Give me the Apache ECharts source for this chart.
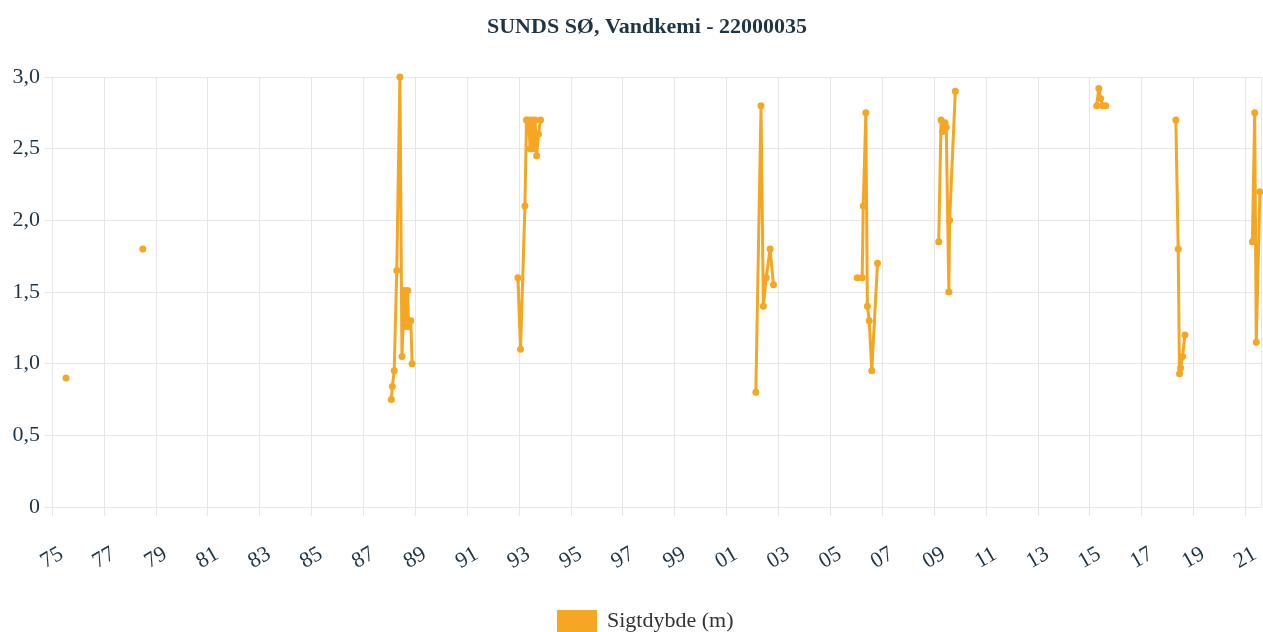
<!DOCTYPE html>
<html>
<head>
<meta charset="utf-8">
<script src="https://cdn.jsdelivr.net/npm/echarts@6/dist/echarts.min.js"></script>
<style>
html,body{margin:0;padding:0;background:#fff;}
#chart{width:1263px;height:632px;}
</style>
</head>
<body>
<div id="chart"></div>
<script>
// Sample dates (decimal years); null marks a gap in the series
const sampleYears = [
  1975.54, null,
  1978.50, null,
  1988.08, 1988.12, 1988.19, 1988.29, 1988.41, 1988.49, 1988.58, 1988.60, 1988.71, 1988.74, 1988.83, 1988.88, null,
  1992.96, 1993.06, 1993.23, 1993.29, 1993.37, 1993.43, 1993.50, 1993.56, 1993.62, 1993.68, 1993.75, 1993.83, null,
  2002.13, 2002.33, 2002.42, 2002.53, 2002.68, 2002.81, null,
  2006.04, 2006.23, 2006.27, 2006.37, 2006.43, 2006.50, 2006.60, 2006.82, null,
  2009.18, 2009.27, 2009.33, 2009.42, 2009.47, 2009.57, 2009.60, 2009.82, null,
  2015.27, 2015.35, 2015.42, 2015.50, 2015.62, null,
  2018.32, 2018.41, 2018.46, 2018.50, 2018.58, 2018.67, null,
  2021.27, 2021.36, 2021.42, 2021.56
];
const sigtdybde = [
  0.90, null,
  1.80, null,
  0.75, 0.84, 0.95, 1.65, 3.00, 1.05, 1.51, 1.26, 1.51, 1.26, 1.30, 1.00, null,
  1.60, 1.10, 2.10, 2.70, 2.70, 2.50, 2.70, 2.50, 2.70, 2.45, 2.60, 2.70, null,
  0.80, 2.80, 1.40, 1.60, 1.80, 1.55, null,
  1.60, 1.60, 2.10, 2.75, 1.40, 1.30, 0.95, 1.70, null,
  1.85, 2.70, 2.62, 2.68, 2.65, 1.50, 2.00, 2.90, null,
  2.80, 2.92, 2.85, 2.80, 2.80, null,
  2.70, 1.80, 0.93, 0.97, 1.05, 1.20, null,
  1.85, 2.75, 1.15, 2.20
];
const startYear = 1975;
const endYear = 2021.6;
const yTicks = [0, 0.5, 1.0, 1.5, 2.0, 2.5, 3.0];
const titleText = 'SUNDS SØ, Vandkemi - 22000035';
const seriesName = 'Sigtdybde (m)';

const FONT = '"Liberation Serif", "DejaVu Serif", serif';
const TEXT = '#1f3545';
const GRID = '#e6e6e6';
const ORANGE = '#f5a623';

// build with gaps: '-' breaks the line
const seriesData = [];
let lastX = 0;
sampleYears.forEach((y, i) => {
  if (y === null) { seriesData.push([lastX + 0.01, '-']); }
  else { lastX = y - startYear; seriesData.push([y - startYear, sigtdybde[i]]); }
});

const chart = echarts.init(document.getElementById('chart'), null, {renderer: 'canvas'});
chart.setOption({
  animation: false,
  backgroundColor: '#fff',
  title: {
    text: titleText,
    left: 482,
    top: 11,
    textStyle: {fontFamily: FONT, fontSize: 22, fontWeight: 'bold', color: TEXT}
  },
  legend: {
    top: 605,
    left: 552,
    icon: 'rect',
    itemWidth: 40,
    itemHeight: 22,
    itemStyle: {color: ORANGE},
    textStyle: {fontFamily: FONT, fontSize: 22, color: '#333', padding: [0, 0, 0, 5]},
    data: [seriesName]
  },
  grid: {left: 52, right: 0, top: 77, bottom: 125, containLabel: false},
  xAxis: {
    type: 'value',
    min: 0,
    max: endYear - startYear,
    interval: 2,
    axisLine: {show: true, lineStyle: {color: GRID}},
    axisTick: {show: true, length: 9, lineStyle: {color: GRID}},
    splitLine: {show: true, lineStyle: {color: GRID}},
    axisLabel: {
      rotate: 30,
      align: 'center',
      verticalAlign: 'middle',
      margin: 51,
      showMaxLabel: false,
      fontFamily: FONT,
      fontSize: 22,
      color: TEXT,
      formatter: v => Number.isInteger(v) ? String((startYear + v) % 100).padStart(2, '0') : ''
    }
  },
  yAxis: {
    type: 'value',
    min: yTicks[0],
    max: yTicks[yTicks.length - 1],
    interval: 0.5,
    axisLine: {show: true, lineStyle: {color: GRID}},
    axisTick: {show: true, length: 8, lineStyle: {color: GRID}},
    splitLine: {show: true, lineStyle: {color: GRID}},
    axisLabel: {
      margin: 12,
      fontFamily: FONT,
      fontSize: 22,
      color: TEXT,
      formatter: v => v === 0 ? '0' : v.toFixed(1).replace('.', ',')
    }
  },
  series: [{
    name: seriesName,
    type: 'line',
    data: seriesData,
    connectNulls: false,
    clip: true,
    symbol: 'circle',
    symbolSize: 7,
    showSymbol: true,
    lineStyle: {color: ORANGE, width: 3},
    itemStyle: {color: ORANGE},
    color: ORANGE
  }]
});
</script>
</body>
</html>
